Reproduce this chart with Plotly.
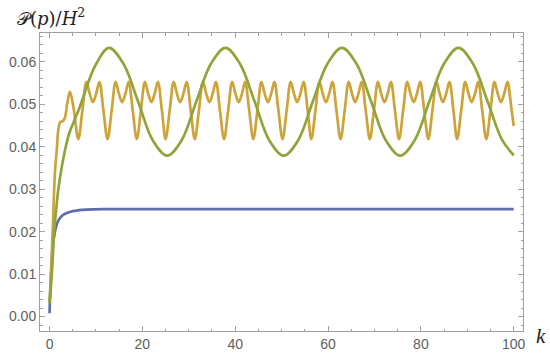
import plotly.graph_objects as go

# values
blue_k = [0, 0.3, 0.6, 1.0, 1.5, 2.0, 3.0, 4.5, 6.0, 8.0, 12.0, 20.0, 40.0, 60.0, 80.0, 100.0]
blue_p = [0.0008, 0.0095, 0.0150, 0.0190, 0.0215, 0.0228, 0.0240, 0.0247, 0.0250, 0.0252, 0.0253,
          0.0253, 0.0253, 0.0253, 0.0253, 0.0253]

green_k = [0, 0.5, 1.0, 1.5, 1.9, 2.6, 3.3, 4.2, 5.2, 6.4, 7.3, 9.8, 12.8,
           15.9, 19.1, 22.2, 25.35, 28.5, 31.6, 34.8, 37.9,
           41.0, 44.2, 47.3, 50.45, 53.6, 56.7, 59.9, 63.0,
           66.1, 69.3, 72.4, 75.55, 78.7, 81.8, 85.0, 88.1,
           91.2, 94.4, 97.5, 100.0]
green_p = [0.0032, 0.0100, 0.0200, 0.0260, 0.0300, 0.0350, 0.0390, 0.0430, 0.0458, 0.0490, 0.0518, 0.0590, 0.0633,
           0.0596, 0.0506, 0.0416, 0.0379, 0.0416, 0.0506, 0.0596, 0.0633,
           0.0596, 0.0506, 0.0416, 0.0379, 0.0416, 0.0506, 0.0596, 0.0633,
           0.0596, 0.0506, 0.0416, 0.0379, 0.0416, 0.0506, 0.0596, 0.0633,
           0.0596, 0.0506, 0.0416, 0.0380]

orange_k = [0, 0.4, 0.8, 1.2, 1.55, 1.9, 2.3, 2.8, 3.3, 3.8, 4.4, 5.2,
            6.2, 7.1, 7.95, 8.65, 9.35, 10.05, 10.75, 11.6,
            12.5, 13.4, 14.25, 14.95, 15.65, 16.35, 17.05, 17.9,
            18.8, 19.7, 20.55, 21.25, 21.95, 22.65, 23.35, 24.2,
            25.0, 25.9, 26.75, 27.45, 28.15, 28.85, 29.55, 30.4,
            31.3, 32.2, 33.05, 33.75, 34.45, 35.15, 35.85, 36.7,
            37.6, 38.5, 39.35, 40.05, 40.75, 41.45, 42.15, 43.0,
            43.9, 44.8, 45.65, 46.35, 47.05, 47.75, 48.45, 49.3,
            50.2, 51.1, 51.95, 52.65, 53.35, 54.05, 54.75, 55.6,
            56.4, 57.3, 58.15, 58.85, 59.55, 60.25, 60.95, 61.8,
            62.7, 63.6, 64.45, 65.15, 65.85, 66.55, 67.25, 68.1,
            69.0, 69.9, 70.75, 71.45, 72.15, 72.85, 73.55, 74.4,
            75.3, 76.2, 77.05, 77.75, 78.45, 79.15, 79.85, 80.7,
            81.6, 82.5, 83.35, 84.05, 84.75, 85.45, 86.15, 87.0,
            87.8, 88.7, 89.55, 90.25, 90.95, 91.65, 92.35, 93.2,
            94.1, 95.0, 95.85, 96.55, 97.25, 97.95, 98.65, 99.5, 100.0]
orange_p = [0.0032, 0.0120, 0.0240, 0.0345, 0.0390, 0.0440, 0.0458, 0.0460, 0.0468, 0.0500, 0.0530, 0.0490,
            0.0418, 0.0487, 0.0553, 0.0525, 0.0505, 0.0525, 0.0553, 0.0487,
            0.0418, 0.0487, 0.0553, 0.0525, 0.0505, 0.0525, 0.0553, 0.0487,
            0.0418, 0.0487, 0.0553, 0.0525, 0.0505, 0.0525, 0.0553, 0.0487,
            0.0418, 0.0487, 0.0553, 0.0525, 0.0505, 0.0525, 0.0553, 0.0487,
            0.0418, 0.0487, 0.0553, 0.0525, 0.0505, 0.0525, 0.0553, 0.0487,
            0.0418, 0.0487, 0.0553, 0.0525, 0.0505, 0.0525, 0.0553, 0.0487,
            0.0418, 0.0487, 0.0553, 0.0525, 0.0505, 0.0525, 0.0553, 0.0487,
            0.0418, 0.0487, 0.0553, 0.0525, 0.0505, 0.0525, 0.0553, 0.0487,
            0.0418, 0.0487, 0.0553, 0.0525, 0.0505, 0.0525, 0.0553, 0.0487,
            0.0418, 0.0487, 0.0553, 0.0525, 0.0505, 0.0525, 0.0553, 0.0487,
            0.0418, 0.0487, 0.0553, 0.0525, 0.0505, 0.0525, 0.0553, 0.0487,
            0.0418, 0.0487, 0.0553, 0.0525, 0.0505, 0.0525, 0.0553, 0.0487,
            0.0418, 0.0487, 0.0553, 0.0525, 0.0505, 0.0525, 0.0553, 0.0487,
            0.0418, 0.0487, 0.0553, 0.0525, 0.0505, 0.0525, 0.0553, 0.0487,
            0.0418, 0.0487, 0.0553, 0.0525, 0.0505, 0.0525, 0.0553, 0.0490, 0.0449]

x_ticks = [0, 20, 40, 60, 80, 100]
y_ticks = [0.00, 0.01, 0.02, 0.03, 0.04, 0.05, 0.06]

fig = go.Figure()

#draw order as in the reference: blue, orange, green
for k, p, col in [(blue_k, blue_p, '#5d6ea8'),
                  (orange_k, orange_p, '#cca43a'),
                  (green_k, green_p, '#8fa53c')]:
	fig.add_trace(go.Scatter(
		x=k, y=p, mode='lines',
		line=dict(color=col, width=2.7, shape='spline', smoothing=1.0),
		showlegend=False, hoverinfo='skip'
	))

axis_style = dict(
	showgrid=False, zeroline=False, automargin=False,
	showline=True, linecolor='#a0a0a0', linewidth=1, mirror='allticks',
	ticks='inside', ticklen=5, tickcolor='#a0a0a0', tickwidth=1,
	tickfont=dict(family='Liberation Sans, Arial, sans-serif', size=14, color='#606060'),
)

fig.update_xaxes(
	range=[-2.05, 102.0], tickvals=x_ticks,
	minor=dict(dtick=5, ticklen=2.5, tickcolor='#a0a0a0', ticks='inside'),
	**axis_style
)
fig.update_yaxes(
	range=[-0.0034, 0.0668], tickvals=y_ticks, tickformat='.2f',
	minor=dict(dtick=0.002, ticklen=2.5, tickcolor='#a0a0a0', ticks='inside'),
	**axis_style
)

fig.add_annotation(
	text='𝒫(<i>p</i>)/<i>H</i><sup>2</sup>',
	xref='paper', yref='paper', x=-0.052, y=1.054,
	xanchor='left', yanchor='middle', showarrow=False,
	font=dict(family='DejaVu Serif, Liberation Serif, serif', size=18, color='#222222')
)
fig.add_annotation(
	text='<i>k</i>',
	xref='paper', yref='paper', x=1.022, y=-0.017,
	xanchor='left', yanchor='middle', showarrow=False,
	font=dict(family='Liberation Serif, DejaVu Serif, serif', size=21, color='#222222')
)

fig.update_layout(
	width=550, height=355,
	margin=dict(l=40, r=27, t=33, b=24),
	plot_bgcolor='white', paper_bgcolor='white'
)

# page body has a default 8px margin, drop it so the figure sits at the corner
fig.write_html("out.html", config={'displayModeBar': False},
               post_script="document.body.style.margin='0';")
